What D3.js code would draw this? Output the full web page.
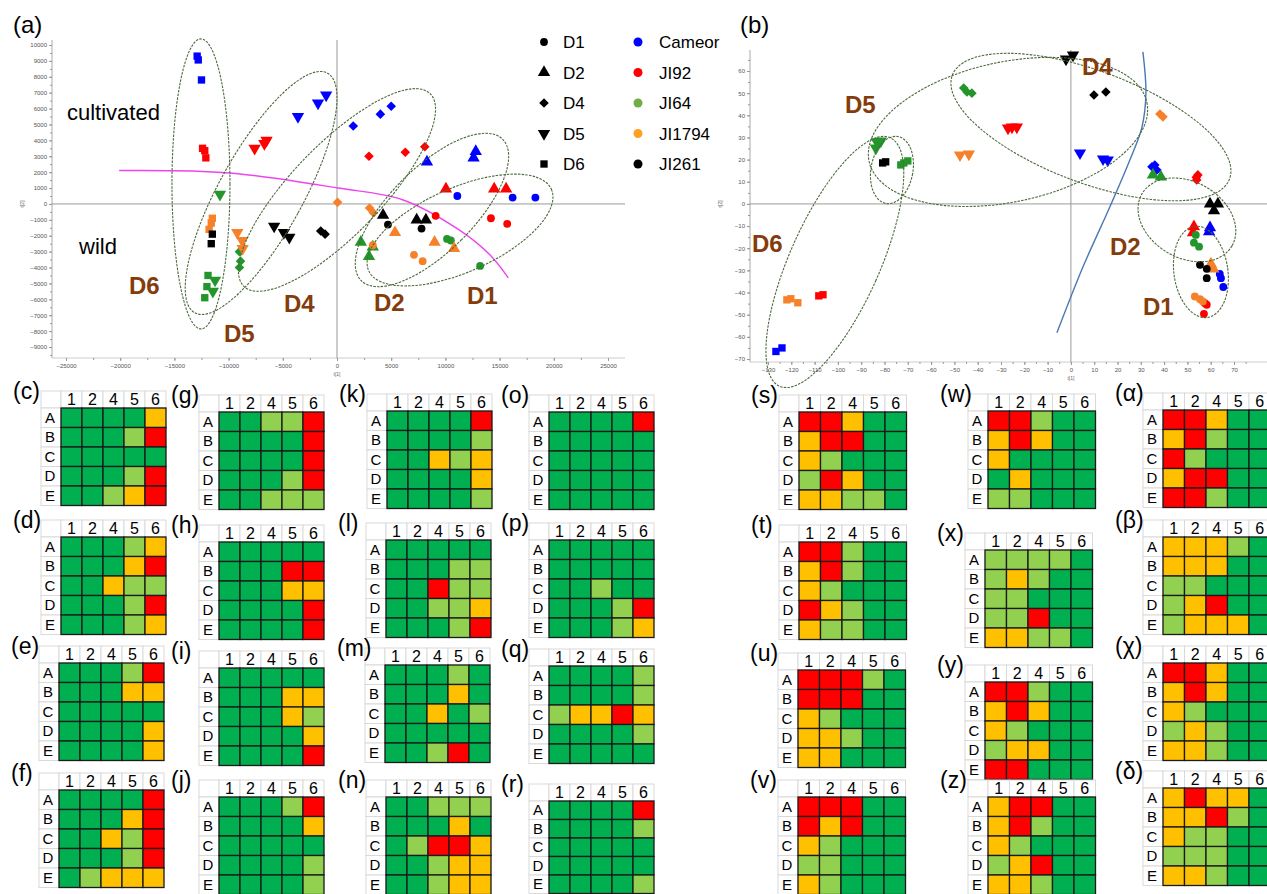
<!DOCTYPE html>
<html>
<head>
<meta charset="utf-8">
<script src="https://cdn.jsdelivr.net/npm/d3@7"></script>
<style>
  body { margin: 0; background: #fff; }
  svg { display: block; }
  text { font-family: "Liberation Sans", Arial, sans-serif; }
  .ax .tick text { font-size: 6px; fill: #555; }
  .ax .tick line { stroke: #999; }
  .ax .domain { display: none; }
</style>
</head>
<body>
<svg id="fig" width="1267" height="894"></svg>
<script>
// genotypes (colour) and development stages (marker shape)
const genotypes = ["Cameor", "JI92", "JI64", "JI1794", "JI261"]
const stages = ["D1", "D2", "D4", "D5", "D6"]
const markerColors = ["#0000ff", "#ff0000", "#22962a", "#f7812a", "#000000"]
const legendColors = ["#0000ff", "#ff0000", "#70ad47", "#ffa020", "#000000"]

// (a) PCA scores: [genotype, stage, t1, t2]
const scoresA = [
  ["Cameor", "D6", -12900, 9300], ["Cameor", "D6", -12800, 9060], ["Cameor", "D6", -12500, 7800],
  ["Cameor", "D5", -3600, 5500], ["Cameor", "D5", -1750, 6350], ["Cameor", "D5", -1000, 6850],
  ["Cameor", "D4", 1500, 4900], ["Cameor", "D4", 4000, 5650], ["Cameor", "D4", 5000, 6150],
  ["Cameor", "D2", 8300, 2650], ["Cameor", "D2", 12800, 3300], ["Cameor", "D2", 12600, 2900],
  ["Cameor", "D1", 11100, 500], ["Cameor", "D1", 16200, 400], ["Cameor", "D1", 18300, 400],
  ["JI92", "D6", -12400, 3500], ["JI92", "D6", -12200, 3350], ["JI92", "D6", -12100, 2900],
  ["JI92", "D5", -7600, 3500], ["JI92", "D5", -6700, 3800], ["JI92", "D5", -6500, 4000],
  ["JI92", "D4", 2950, 3000], ["JI92", "D4", 6300, 3250], ["JI92", "D4", 8100, 3600],
  ["JI92", "D2", 10050, 950], ["JI92", "D2", 14500, 950], ["JI92", "D2", 15600, 950],
  ["JI92", "D1", 9100, -750], ["JI92", "D1", 14200, -900], ["JI92", "D1", 15700, -1250],
  ["JI64", "D6", -11900, -4500], ["JI64", "D6", -12000, -5200], ["JI64", "D6", -12200, -5900],
  ["JI64", "D5", -10800, 600], ["JI64", "D5", -11250, -4800], ["JI64", "D5", -11450, -5500],
  ["JI64", "D4", -9000, -3000], ["JI64", "D4", -8900, -3600], ["JI64", "D4", -9000, -4000],
  ["JI64", "D2", 2200, -2400], ["JI64", "D2", 3300, -2700], ["JI64", "D2", 2950, -3300],
  ["JI64", "D1", 10150, -2200], ["JI64", "D1", 10500, -2300], ["JI64", "D1", 13200, -3900],
  ["JI1794", "D6", -11500, -900], ["JI1794", "D6", -11600, -1200], ["JI1794", "D6", -11800, -1600],
  ["JI1794", "D5", -9200, -1800], ["JI1794", "D5", -8750, -2300], ["JI1794", "D5", -8700, -2800],
  ["JI1794", "D4", 50, 100], ["JI1794", "D4", 3000, -250], ["JI1794", "D4", 3350, -550],
  ["JI1794", "D2", 5350, -1800], ["JI1794", "D2", 9000, -2400], ["JI1794", "D2", 10800, -2800],
  ["JI1794", "D1", 3300, -2600], ["JI1794", "D1", 7100, -3200], ["JI1794", "D1", 7900, -3600],
  ["JI261", "D6", -11500, -1900], ["JI261", "D6", -11600, -2500],
  ["JI261", "D5", -5800, -1400], ["JI261", "D5", -4900, -1800], ["JI261", "D5", -4400, -2100],
  ["JI261", "D4", -1500, -1700], ["JI261", "D4", -1100, -1900],
  ["JI261", "D2", 4250, -700], ["JI261", "D2", 7350, -1000], ["JI261", "D2", 8200, -1000],
  ["JI261", "D1", 4700, -1300], ["JI261", "D1", 7800, -1550],
]

// (b) PCA scores: [genotype, stage, t1, t2]
const scoresB = [
  ["Cameor", "D6", -126.6, -66.6], ["Cameor", "D6", -124, -65],
  ["Cameor", "D5", 3.9, 23], ["Cameor", "D5", 13.8, 20.3], ["Cameor", "D5", 15.8, 19.8],
  ["Cameor", "D4", 34.8, 16.8], ["Cameor", "D4", 36, 17.6], ["Cameor", "D4", 36.9, 15.3],
  ["Cameor", "D2", 59.7, -10.7], ["Cameor", "D2", 59.3, -12.5],
  ["Cameor", "D1", 63.9, -31.6], ["Cameor", "D1", 64.4, -33.5], ["Cameor", "D1", 65.4, -37.5],
  ["JI92", "D6", -108.2, -41.5], ["JI92", "D6", -106.4, -41],
  ["JI92", "D5", -27, 34.2], ["JI92", "D5", -25.3, 34.7], ["JI92", "D5", -23.2, 34.7],
  ["JI92", "D4", 54, 10.8], ["JI92", "D4", 54.5, 13.1], ["JI92", "D4", 53.8, 12],
  ["JI92", "D2", 52.8, -10.3], ["JI92", "D2", 52.4, -13],
  ["JI92", "D1", 57.5, -44.8], ["JI92", "D1", 58.3, -45.5], ["JI92", "D1", 57.1, -49.6],
  ["JI64", "D6", -73, 17.6], ["JI64", "D6", -71.7, 18.5], ["JI64", "D6", -70, 19.4],
  ["JI64", "D5", -83.3, 28], ["JI64", "D5", -81.6, 28.4], ["JI64", "D5", -83.7, 25.2],
  ["JI64", "D4", -46, 52.3], ["JI64", "D4", -44.6, 50.5], ["JI64", "D4", -42.5, 50],
  ["JI64", "D2", 35.2, 13.1], ["JI64", "D2", 38.6, 12.2],
  ["JI64", "D1", 53.6, -14], ["JI64", "D1", 52.8, -17.5], ["JI64", "D1", 55, -19.3],
  ["JI1794", "D6", -121.9, -43.3], ["JI1794", "D6", -120.2, -42.8], ["JI1794", "D6", -117.2, -44.6],
  ["JI1794", "D5", -47.6, 22.1], ["JI1794", "D5", -43.8, 22.5],
  ["JI1794", "D4", 38.2, 40.6], ["JI1794", "D4", 39.5, 39.3],
  ["JI1794", "D2", 60.1, -27.1], ["JI1794", "D2", 61.1, -29.3],
  ["JI1794", "D1", 53.2, -41.8], ["JI1794", "D1", 55.4, -43], ["JI1794", "D1", 56.6, -44],
  ["JI261", "D6", -80.8, 18.5], ["JI261", "D6", -79.5, 19],
  ["JI261", "D5", -2.1, 65.4], ["JI261", "D5", 0.9, 67.2],
  ["JI261", "D4", 9.9, 49.2], ["JI261", "D4", 15, 50.5],
  ["JI261", "D2", 59.7, 0], ["JI261", "D2", 63.1, 0], ["JI261", "D2", 61.4, -3],
  ["JI261", "D1", 55.4, -27.5], ["JI261", "D1", 58.3, -29.3], ["JI261", "D1", 58.3, -33.5],
]

// cultivated / wild dividing curves
const dividerA = [[-20100, 2100], [-9900, 1950], [100, 1000], [6100, 250], [11300, -1650], [14100, -3200], [15800, -4650]]
const dividerB = [[30.9, 68.6], [32.2, 50], [30.5, 34.7], [25.3, 19.8], [16.7, -1.4], [5.2, -28.4], [-6, -58.2]]

// stage clusters: [cx, cy] in score units, radii in px, rotation in degrees
const clustersA = [[-12550, 1260, 29, 145, 0], [-7000, 690, 42, 137, 29], [0, 880, 45, 134, 44], [8760, -380, 42, 100, 45], [11350, -1640, 100, 42, -24]]
const clustersB = [[8.6, 34.7, 148, 56, 20.5], [-27, 32.5, 142, 70, -12], [-101.3, -26.2, 45, 136, 24], [-76.8, 15.3, 21, 34, 10], [49.8, -7.2, 52, 38, 30], [55.8, -30.7, 27, 46, -8]]

// heat maps: rows A-E, columns = stages 1,2,4,5,6; G dark green, L light green, O orange, R red
const heatRows = ["A", "B", "C", "D", "E"]
const heatCols = ["1", "2", "4", "5", "6"]
const heatLevels = ["G", "L", "O", "R"]
const heatNames = ["c", "d", "e", "f", "g", "h", "i", "j", "k", "l", "m", "n", "o", "p", "q", "r",
  "s", "t", "u", "v", "w", "x", "y", "z", "α", "β", "χ", "δ"]
const heatCodes = [
  ["GGGGO", "GGGLR", "GGGGG", "GGGLR", "GGLOR"],
  ["GGGLO", "GGGOR", "GGOLL", "GGGLR", "GGGLO"],
  ["GGGLR", "GGGOO", "GGGGG", "GGGGO", "GGGGO"],
  ["GGGGR", "GGGOR", "GGOLR", "GGGLR", "GLOOO"],
  ["GGLLR", "GGGGR", "GGGGR", "GGGLR", "GGLLL"],
  ["GGGGG", "GGGRR", "GGGOO", "GGGGR", "GGGGR"],
  ["GGGGG", "GGGOO", "GGGOL", "GGGGO", "GGGGR"],
  ["GGGLR", "GGGGO", "GGGGG", "GGGGL", "GGGGL"],
  ["GGGGR", "GGGGL", "GGOLO", "GGGGO", "GGGGL"],
  ["GGGGG", "GGGLL", "GGRLL", "GGLLO", "GGGLR"],
  ["GGGLG", "GGGOG", "GGOGL", "GGGGG", "GGLRG"],
  ["GGLLL", "GGGOG", "GLRRO", "GGLOO", "GGLOO"],
  ["GGGGR", "GGGGG", "GGGGG", "GGGGG", "GGGGG"],
  ["GGGGG", "GGGGG", "GGLGG", "GGGLR", "GGGLO"],
  ["GGGGL", "GGGGL", "LOORO", "GGGGL", "GGGGG"],
  ["GGGGR", "GGGGL", "GGGGG", "GGGGG", "GGGGL"],
  ["RROGG", "ORRGG", "OLGGG", "LROGG", "OOLLG"],
  ["RRLGG", "ORLGG", "OLGGG", "ROLGG", "OLLGG"],
  ["RRRLG", "RRRGG", "OLGGG", "OOLGG", "OOGGG"],
  ["RRRGG", "RORGG", "OLGGG", "LLGGG", "OLGGG"],
  ["RRLGG", "OROGG", "OGGGG", "GOGGG", "LLGGG"],
  ["LLLLG", "LOLGG", "LLGGG", "LLRGG", "OOLLG"],
  ["RRLGG", "OROGG", "OLGGG", "LOOGG", "RRGGG"],
  ["ORRGG", "ORLGG", "OLGGG", "LORGG", "OOLGG"],
  ["RROGG", "ORLGG", "RLGGG", "ORRGG", "RRLGG"],
  ["OOOLG", "OOOGG", "LLGGG", "LORGG", "LOOOG"],
  ["RROGG", "OROGG", "OLGGG", "LOLGG", "OOLGG"],
  ["OROOG", "OORLG", "OLLGG", "LLLGG", "OOLGG"],
]

const svg = d3.select("#fig")
svg.append("rect").attr("width", 1267).attr("height", 894).attr("fill", "#fff")

const colorOf = d3.scaleOrdinal(genotypes, markerColors)
const shapeOf = d3.scaleOrdinal(stages, [d3.symbolCircle, d3.symbolTriangle, d3.symbolSquare, d3.symbolTriangle, d3.symbolSquare])
const sizeOf = d3.scaleOrdinal(stages, [48, 66, 46, 66, 54])
const turnOf = d3.scaleOrdinal(stages, [0, 0, 45, 180, 0])
const ellipseStroke = "#4d6a3c"
const brown = "#843c0c"

function plotPanel(opt) {
  const g = svg.append("g")
  const { x, y, left, bottom, top, right } = opt

  // axis frame and zero lines
  g.append("line").attr("x1", left).attr("x2", left).attr("y1", top).attr("y2", bottom).attr("stroke", "#aaa")
  g.append("line").attr("x1", left).attr("x2", right).attr("y1", bottom).attr("y2", bottom).attr("stroke", "#ccc")
  g.append("line").attr("x1", left).attr("x2", right).attr("y1", y(0)).attr("y2", y(0)).attr("stroke", "#999")
  g.append("line").attr("x1", x(0)).attr("x2", x(0)).attr("y1", top).attr("y2", bottom).attr("stroke", "#999")

  g.append("g").attr("class", "ax").attr("transform", `translate(${left},0)`)
    .call(d3.axisLeft(y).tickValues(opt.yTicks).tickSize(3).tickPadding(2).tickFormat(d3.format("d")))
  g.append("g").attr("class", "ax").attr("transform", `translate(${left},0)`)
    .call(d3.axisLeft(y).tickValues(opt.yMinor).tickSize(2).tickFormat(""))
  g.append("g").attr("class", "ax").attr("transform", `translate(0,${bottom})`)
    .call(d3.axisBottom(x).tickValues(opt.xTicks).tickSize(3).tickPadding(3).tickFormat(d3.format("d")))
  g.append("g").attr("class", "ax").attr("transform", `translate(0,${bottom})`)
    .call(d3.axisBottom(x).tickValues(opt.xMinor).tickSize(2).tickFormat(""))

  g.append("text").attr("x", x(0)).attr("y", bottom + 18).attr("font-size", 5).attr("fill", "#666")
    .attr("text-anchor", "middle").text("t[1]")
  g.append("text").attr("transform", `translate(${left - 28},${y(0)}) rotate(-90)`).attr("font-size", 5)
    .attr("fill", "#666").attr("text-anchor", "middle").text("t[2]")

  // divider curve
  g.append("path").datum(opt.divider)
    .attr("d", d3.line().x((d) => x(d[0])).y((d) => y(d[1])).curve(d3.curveCatmullRom))
    .attr("fill", "none").attr("stroke", opt.dividerColor).attr("stroke-width", 1.4)

  // points
  g.selectAll(".pt").data(opt.scores).enter().append("path")
    .attr("class", "pt")
    .attr("d", (d) => d3.symbol(shapeOf(d[1]), sizeOf(d[1]))())
    .attr("transform", (d) => `translate(${x(d[2])},${y(d[3])}) rotate(${turnOf(d[1])})`)
    .attr("fill", (d) => colorOf(d[0]))

  // cluster ellipses
  g.selectAll(".cl").data(opt.clusters).enter().append("ellipse")
    .attr("class", "cl")
    .attr("transform", (d) => `translate(${x(d[0])},${y(d[1])}) rotate(${d[4]})`)
    .attr("rx", (d) => d[2]).attr("ry", (d) => d[3])
    .attr("fill", "none").attr("stroke", ellipseStroke).attr("stroke-width", 1.1)
    .attr("stroke-dasharray", "2.5,1.2")

  // stage labels
  g.selectAll(".sl").data(opt.stageLabels).enter().append("text")
    .attr("x", (d) => d[1]).attr("y", (d) => d[2]).text((d) => d[0])
    .attr("font-family", "Lato, sans-serif").attr("font-weight", "bold")
    .attr("font-size", 24).attr("fill", brown)

  g.append("text").attr("x", opt.tag[1]).attr("y", opt.tag[2]).attr("font-size", 24).text(opt.tag[0])
  return g
}

// ---- (a)
const xA = d3.scaleLinear().domain([-25000, 25000]).range([66, 608])
const yA = d3.scaleLinear().domain([-9000, 10000]).range([347, 45])
const gA = plotPanel({
  x: xA, y: yA, left: 52, right: 625, top: 40, bottom: 358,
  yTicks: d3.range(-9000, 10001, 1000), yMinor: d3.range(-9500, 10001, 500),
  xTicks: d3.range(-25000, 25001, 5000), xMinor: d3.range(-25000, 25001, 2500),
  divider: dividerA, dividerColor: "#ee44ee",
  scores: scoresA, clusters: clustersA,
  stageLabels: [["D6", 129, 294], ["D5", 224, 342], ["D4", 284, 312], ["D2", 374, 311], ["D1", 467, 304]],
  tag: ["(a)", 13, 33],
})
gA.append("text").attr("x", 67).attr("y", 120).attr("font-family", "Open Sans, sans-serif").attr("font-size", 22).text("cultivated")
gA.append("text").attr("x", 79).attr("y", 254).attr("font-family", "Open Sans, sans-serif").attr("font-size", 22).text("wild")

// legend: shapes for stages, colours for genotypes
const legY = d3.scalePoint().domain(stages).range([42, 164])
const legend = svg.append("g").attr("font-family", "Open Sans, sans-serif").attr("font-size", 17)
stages.forEach((s) => {
  legend.append("path").attr("d", d3.symbol(shapeOf(s), sizeOf(s))())
    .attr("transform", `translate(544,${legY(s)}) rotate(${turnOf(s)})`).attr("fill", "#000")
  legend.append("text").attr("x", 563).attr("y", legY(s) + 6).text(s)
})
genotypes.forEach((gt, i) => {
  const yy = legY(stages[i])
  legend.append("circle").attr("cx", 638).attr("cy", yy).attr("r", 4.5).attr("fill", legendColors[i])
  legend.append("text").attr("x", 659).attr("y", yy + 6).text(gt)
})

// ---- (b)
const xB = d3.scaleLinear().domain([-130, 70]).range([768, 1234])
const yB = d3.scaleLinear().domain([-70, 60]).range([359, 71])
plotPanel({
  x: xB, y: yB, left: 750, right: 1267, top: 50, bottom: 362,
  yTicks: d3.range(-70, 61, 10), yMinor: d3.range(-70, 66, 5),
  xTicks: d3.range(-130, 71, 10), xMinor: d3.range(-130, 76, 5),
  divider: dividerB, dividerColor: "#4a78b5",
  scores: scoresB, clusters: clustersB,
  stageLabels: [["D4", 1082, 75], ["D5", 845, 113], ["D6", 752, 252], ["D2", 1110, 255], ["D1", 1143, 315]],
  tag: ["(b)", 740, 33],
})

// ---- heat maps
const heatColor = d3.scaleOrdinal(heatLevels, ["#00b050", "#92d050", "#ffc000", "#ff0000"])
const heatPos = {
  c: [61, 408], g: [219, 412], k: [387, 411], o: [549, 412],
  d: [61, 537], h: [219, 542], l: [386, 540], p: [549, 540],
  e: [59, 663], i: [219, 668], m: [385, 665], q: [549, 666],
  f: [59, 790], j: [219, 797], n: [386, 797], r: [549, 801],
  s: [799, 412], w: [988, 411], "α": [1163, 410],
  t: [799, 542], x: [985, 550], "β": [1163, 537],
  u: [798, 670], y: [985, 682], "χ": [1163, 663],
  v: [798, 797], z: [988, 797], "δ": [1163, 788],
}
const greek = new Set(["α", "β", "χ", "δ"])

heatNames.forEach((name, k) => {
  const [x0, y0] = heatPos[name]
  const cw = x0 > 700 ? 21.5 : 21
  const ch = name === "r" ? 18.5 : 19.5
  const hh = 17
  const rw = 20
  const xs = d3.scaleBand().domain(heatCols).range([0, 5 * cw])
  const ys = d3.scaleBand().domain(heatRows).range([0, 5 * ch])
  const g = svg.append("g").attr("transform", `translate(${x0},${y0})`)
  const cells = heatCodes[k].flatMap((row, ri) => row.split("").map((c, ci) => ({ r: heatRows[ri], c: heatCols[ci], v: c })))

  // header and row-label boxes
  g.append("rect").attr("x", -rw).attr("y", -hh).attr("width", rw).attr("height", hh)
    .attr("fill", "#fff").attr("stroke", "#d9d9d9")
  g.selectAll(".hc").data(heatCols).enter().append("rect")
    .attr("x", (d) => xs(d)).attr("y", -hh).attr("width", xs.bandwidth()).attr("height", hh)
    .attr("fill", "#fff").attr("stroke", "#d9d9d9")
  g.selectAll(".hr").data(heatRows).enter().append("rect")
    .attr("x", -rw).attr("y", (d) => ys(d)).attr("width", rw).attr("height", ys.bandwidth())
    .attr("fill", "#fff").attr("stroke", "#d9d9d9")
  g.selectAll(".ht").data(heatCols).enter().append("text")
    .attr("x", (d) => xs(d) + xs.bandwidth() / 2).attr("y", -3).attr("text-anchor", "middle")
    .attr("font-family", "Lato, sans-serif").attr("font-size", 16).text((d) => d)
  g.selectAll(".rt").data(heatRows).enter().append("text")
    .attr("x", -rw / 2 - 1).attr("y", (d) => ys(d) + ys.bandwidth() / 2 + 5).attr("text-anchor", "middle")
    .attr("font-family", "Lato, sans-serif").attr("font-size", 15).text((d) => d)

  // coloured cells
  g.selectAll(".cell").data(cells).enter().append("rect")
    .attr("x", (d) => xs(d.c)).attr("y", (d) => ys(d.r))
    .attr("width", xs.bandwidth()).attr("height", ys.bandwidth())
    .attr("fill", (d) => heatColor(d.v)).attr("stroke", "#1a1a1a").attr("stroke-width", 1.3)

  // panel tag
  g.append("text").attr("x", -48).attr("y", -9).attr("font-size", 23)
    .attr("font-family", greek.has(name) ? "Liberation Serif, serif" : "Liberation Sans, Arial, sans-serif")
    .text(`(${name})`)
})
</script>
</body>
</html>
